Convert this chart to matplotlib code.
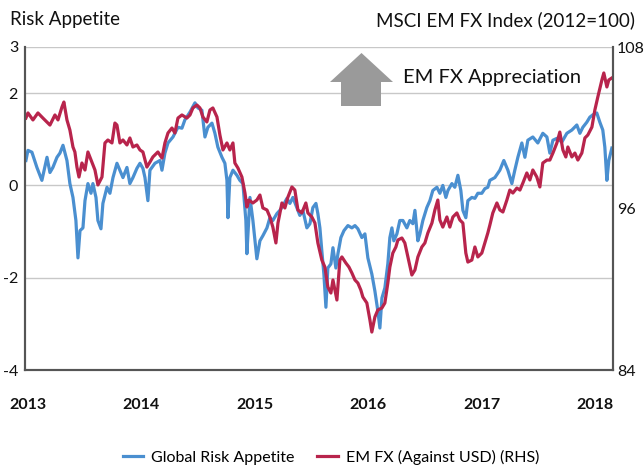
import numpy as np
import matplotlib
matplotlib.use("Agg")
import matplotlib.pyplot as plt
from matplotlib.patches import Polygon

plt.rcParams['font.family'] = ['Lato', 'DejaVu Sans']

# Global Risk Appetite (left axis), decimal year / value
risk_dates = [
    2012.982, 2013.000, 2013.035, 2013.079, 2013.123, 2013.168, 2013.194, 2013.220, 2013.256, 2013.282,
    2013.309, 2013.344, 2013.370, 2013.397, 2013.423, 2013.441, 2013.459, 2013.485, 2013.503, 2013.529,
    2013.556, 2013.573, 2013.600, 2013.617, 2013.644, 2013.661, 2013.697, 2013.723, 2013.750, 2013.785,
    2013.811, 2013.838, 2013.873, 2013.899, 2013.926, 2013.961, 2013.988, 2014.014, 2014.032, 2014.058,
    2014.076, 2014.120, 2014.164, 2014.182, 2014.208, 2014.235, 2014.279, 2014.323, 2014.358, 2014.384,
    2014.429, 2014.473, 2014.499, 2014.534, 2014.561, 2014.587, 2014.623, 2014.649, 2014.675, 2014.711,
    2014.737, 2014.755, 2014.764, 2014.781, 2014.808, 2014.843, 2014.869, 2014.896, 2014.922, 2014.931,
    2014.958, 2014.984, 2015.019, 2015.046, 2015.072, 2015.108, 2015.134, 2015.160, 2015.196, 2015.222,
    2015.249, 2015.284, 2015.310, 2015.337, 2015.372, 2015.398, 2015.425, 2015.460, 2015.487, 2015.513,
    2015.540, 2015.557, 2015.575, 2015.592, 2015.610, 2015.628, 2015.645, 2015.672, 2015.690, 2015.716,
    2015.734, 2015.760, 2015.787, 2015.822, 2015.857, 2015.884, 2015.910, 2015.945, 2015.972, 2015.998,
    2016.033, 2016.060, 2016.086, 2016.104, 2016.122, 2016.148, 2016.174, 2016.192, 2016.210, 2016.227,
    2016.254, 2016.280, 2016.307, 2016.342, 2016.368, 2016.395, 2016.413, 2016.439, 2016.457, 2016.483,
    2016.518, 2016.545, 2016.571, 2016.607, 2016.633, 2016.659, 2016.686, 2016.704, 2016.739, 2016.765,
    2016.792, 2016.818, 2016.836, 2016.862, 2016.880, 2016.915, 2016.942, 2016.968, 2017.003, 2017.030,
    2017.056, 2017.074, 2017.118, 2017.162, 2017.197, 2017.233, 2017.268, 2017.294, 2017.321, 2017.356,
    2017.383, 2017.409, 2017.453, 2017.497, 2017.541, 2017.577, 2017.603, 2017.630, 2017.665, 2017.709,
    2017.753, 2017.797, 2017.841, 2017.868, 2017.894, 2017.929, 2017.956, 2017.982, 2018.017, 2018.044,
    2018.070, 2018.088, 2018.106, 2018.123, 2018.150,
]
risk_vals = [
    0.54, 0.76, 0.72, 0.39, 0.11, 0.61, 0.28, 0.39, 0.61, 0.70,
    0.87, 0.54, 0.04, -0.26, -0.76, -1.57, -0.98, -0.92, -0.33, 0.04,
    -0.17, 0.04, -0.26, -0.76, -0.94, -0.39, -0.04, -0.17, 0.17, 0.48,
    0.33, 0.17, 0.39, 0.04, 0.17, 0.37, 0.48, 0.37, 0.17, -0.33,
    0.33, 0.48, 0.54, 0.33, 0.70, 0.92, 1.05, 1.26, 1.24, 1.42,
    1.59, 1.79, 1.68, 1.63, 1.05, 1.26, 1.35, 1.13, 0.83, 0.61,
    0.48, 0.11, -0.70, 0.17, 0.33, 0.22, 0.11, 0.04, -0.76, -1.48,
    -0.26, -0.76, -1.59, -1.20, -1.09, -0.92, -0.70, -0.76, -0.61, -0.54,
    -0.44, -0.28, -0.39, -0.26, -0.48, -0.65, -0.54, -0.92, -0.83, -0.48,
    -0.39, -0.61, -0.92, -1.42, -1.92, -2.64, -1.79, -1.70, -1.35, -1.79,
    -1.48, -1.13, -0.98, -0.87, -0.92, -0.87, -0.94, -1.13, -1.05, -1.57,
    -1.92, -2.29, -2.72, -3.09, -2.44, -2.22, -1.70, -1.13, -0.92, -1.20,
    -1.05, -0.76, -0.76, -0.92, -0.76, -0.83, -0.54, -1.20, -1.05, -0.76,
    -0.48, -0.33, -0.11, -0.04, -0.17, 0.00, -0.26, -0.11, 0.04, -0.04,
    0.22, -0.11, -0.54, -0.70, -0.33, -0.26, -0.28, -0.17, -0.17, -0.07,
    -0.04, 0.11, 0.17, 0.33, 0.54, 0.33, 0.04, 0.33, 0.61, 0.92,
    0.61, 0.98, 1.05, 0.92, 1.13, 1.05, 0.70, 0.98, 1.02, 0.94,
    1.13, 1.20, 1.31, 1.13, 1.26, 1.37, 1.48, 1.53, 1.57, 1.37,
    1.20, 0.83, 0.11, 0.54, 0.81,
]

# EM FX against USD (right axis, index 2012=100)
fx_dates = [
    2012.982, 2013.000, 2013.044, 2013.088, 2013.132, 2013.194, 2013.238, 2013.265, 2013.300, 2013.317,
    2013.344, 2013.370, 2013.397, 2013.414, 2013.432, 2013.450, 2013.476, 2013.503, 2013.529, 2013.564,
    2013.591, 2013.617, 2013.653, 2013.679, 2013.705, 2013.741, 2013.767, 2013.785, 2013.811, 2013.838,
    2013.873, 2013.899, 2013.926, 2013.961, 2013.988, 2014.014, 2014.049, 2014.076, 2014.102, 2014.146,
    2014.182, 2014.208, 2014.235, 2014.270, 2014.296, 2014.323, 2014.358, 2014.402, 2014.429, 2014.455,
    2014.490, 2014.517, 2014.543, 2014.578, 2014.605, 2014.631, 2014.667, 2014.693, 2014.720, 2014.755,
    2014.781, 2014.808, 2014.825, 2014.852, 2014.887, 2014.914, 2014.931, 2014.949, 2014.984, 2015.019,
    2015.046, 2015.072, 2015.108, 2015.134, 2015.160, 2015.187, 2015.205, 2015.240, 2015.266, 2015.293,
    2015.328, 2015.354, 2015.381, 2015.416, 2015.451, 2015.469, 2015.504, 2015.531, 2015.557, 2015.592,
    2015.619, 2015.645, 2015.672, 2015.690, 2015.725, 2015.751, 2015.769, 2015.804, 2015.831, 2015.857,
    2015.884, 2015.910, 2015.936, 2015.954, 2015.989, 2016.016, 2016.033, 2016.060, 2016.086, 2016.122,
    2016.148, 2016.174, 2016.192, 2016.218, 2016.245, 2016.263, 2016.298, 2016.324, 2016.351, 2016.386,
    2016.413, 2016.439, 2016.474, 2016.501, 2016.527, 2016.563, 2016.589, 2016.615, 2016.633, 2016.659,
    2016.695, 2016.721, 2016.748, 2016.783, 2016.809, 2016.836, 2016.862, 2016.880, 2016.915, 2016.942,
    2016.968, 2017.003, 2017.030, 2017.056, 2017.074, 2017.100, 2017.136, 2017.162, 2017.189, 2017.224,
    2017.250, 2017.277, 2017.312, 2017.339, 2017.365, 2017.400, 2017.427, 2017.453, 2017.488, 2017.515,
    2017.541, 2017.577, 2017.603, 2017.630, 2017.665, 2017.691, 2017.718, 2017.744, 2017.762, 2017.797,
    2017.824, 2017.850, 2017.885, 2017.912, 2017.938, 2017.974, 2018.000, 2018.026, 2018.062, 2018.079,
    2018.106, 2018.123, 2018.150,
]
fx_vals = [
    102.72, 103.10, 102.58, 103.10, 102.72, 102.20, 102.95, 102.58, 103.54, 103.91,
    102.58, 101.83, 100.57, 100.20, 99.08, 98.34, 99.38, 98.86, 100.20, 99.45,
    98.86, 97.75, 98.34, 100.87, 101.09, 100.87, 102.35, 102.20, 100.87, 101.09,
    100.72, 101.24, 100.57, 100.72, 100.35, 100.20, 99.08, 99.45, 99.83, 100.20,
    99.75, 100.87, 101.61, 101.98, 101.61, 102.72, 102.95, 102.72, 102.95, 103.47,
    103.69, 103.47, 102.80, 102.43, 103.32, 103.47, 102.80, 101.46, 100.35, 100.87,
    100.35, 100.87, 99.38, 99.01, 98.34, 97.15, 96.11, 96.63, 96.41, 96.63,
    97.00, 96.04, 95.89, 95.37, 94.62, 93.44, 94.92, 96.41, 96.04, 96.85,
    97.60, 97.37, 95.89, 95.67, 96.41, 95.67, 95.37, 94.92, 93.44, 92.17,
    91.65, 90.17, 89.72, 90.69, 89.20, 92.17, 92.40, 91.95, 91.65, 91.21,
    90.69, 90.46, 89.94, 89.42, 88.98, 87.72, 86.82, 87.94, 88.46, 88.61,
    88.98, 90.46, 91.65, 92.69, 93.14, 93.66, 93.81, 93.44, 92.40, 91.06,
    91.43, 92.40, 93.14, 93.44, 94.18, 94.92, 95.89, 96.63, 95.15, 94.62,
    95.37, 94.62, 95.37, 95.67, 95.15, 94.92, 92.69, 92.02, 92.17, 93.14,
    92.40, 92.69, 93.44, 94.18, 94.77, 95.67, 96.41, 95.89, 95.74, 96.63,
    97.37, 97.15, 97.52, 97.37, 97.89, 98.64, 98.12, 98.86, 98.34, 97.60,
    99.38, 99.60, 99.60, 100.12, 100.87, 101.68, 100.35, 99.83, 100.57, 99.83,
    100.12, 99.60, 100.12, 101.24, 101.46, 102.05, 103.32, 104.28, 105.55, 106.07,
    105.03, 105.55, 105.70,
]

years = [2013, 2014, 2015, 2016, 2017, 2018]
left_ticks = [-4, -2, 0, 2, 3]
right_ticks = [84, 96, 108]

blue = '#4a8fd0'
red = '#b8244c'

fig = plt.figure(figsize=(6.44, 4.69), dpi=100)
ax = fig.add_axes([25/644, 1-370/469, 588/644, 323/469])
ax2 = ax.twinx()

ax.plot(risk_dates, risk_vals, color=blue, lw=2.3, label='Global Risk Appetite')
ax2.plot(fx_dates, fx_vals, color=red, lw=2.3, label='EM FX (Against USD) (RHS)')

ax.set_xlim(2012.974, 2018.16)
ax.set_ylim(-4, 3)
ax2.set_ylim(84, 108)

ax.set_yticks(left_ticks)
ax.set_yticklabels([str(t) for t in left_ticks])
ax2.set_yticks(right_ticks)
ax.set_xticks(years)
ax.set_xticklabels([str(y) for y in years], fontweight='bold')

ax.tick_params(axis='y', length=0, pad=5, labelsize=11.5, colors='#111111')
ax.tick_params(axis='x', length=0, pad=20, labelsize=11.5, colors='#111111')
ax2.tick_params(axis='y', length=0, pad=3, labelsize=11.5, colors='#111111')

ax.yaxis.grid(True, color='#c8c8c8', lw=1.0)
ax.set_axisbelow(True)
for a in (ax, ax2):
    a.spines['top'].set_visible(False)
    a.spines['left'].set_color('#555555')
    a.spines['bottom'].set_color('#555555')
    a.spines['right'].set_color('#555555')
    a.spines['left'].set_linewidth(1.5)
    a.spines['bottom'].set_linewidth(1.5)
    a.spines['right'].set_linewidth(1.5)

fig.text(10/644, 1-20/469, 'Risk Appetite', fontsize=13.5, va='center', ha='left', color='#111111')
fig.text(635/644, 1-20/469, 'MSCI EM FX Index (2012=100)', fontsize=13.5, va='center', ha='right', color='#111111')

# up arrow
arrow_pts = [(330, 82), (361.5, 53), (393, 82), (381, 82), (381, 106), (341, 106), (341, 82)]
arrow = Polygon([(px/644, 1-py/469) for px, py in arrow_pts], closed=True,
                transform=fig.transFigure, facecolor='#9a9a9a', edgecolor='none')
fig.patches.append(arrow)
fig.text(403/644, 1-78/469, 'EM FX Appreciation', fontsize=14.5, va='center', ha='left', color='#111111')

h1, l1 = ax.get_legend_handles_labels()
h2, l2 = ax2.get_legend_handles_labels()
fig.legend(h1 + h2, l1 + l2, loc='center', bbox_to_anchor=(331/644, 1-457/469), ncol=2,
           frameon=False, fontsize=11.5, handlelength=1.3, handletextpad=0.5, columnspacing=1.4)

fig.savefig('out.png', dpi=100)
